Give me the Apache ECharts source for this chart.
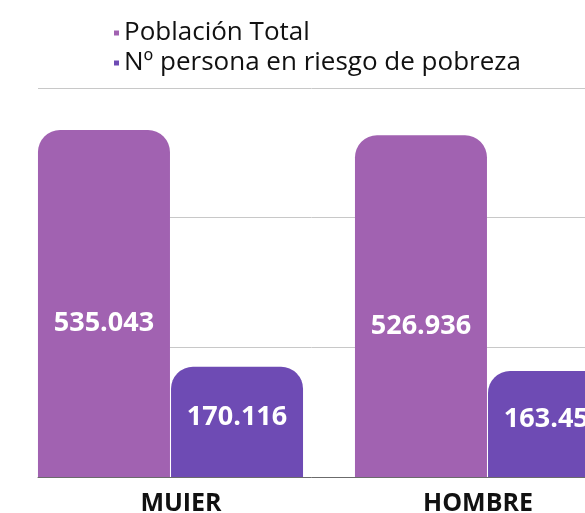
<!DOCTYPE html>
<html>
<head>
<meta charset="utf-8">
<script src="https://cdn.jsdelivr.net/npm/echarts@6/dist/echarts.min.js"></script>
<style>
  html, body { margin: 0; padding: 0; background: #fff; }
  #main { width: 585px; height: 513px; }
</style>
</head>
<body>
<div id="main"></div>
<script>
var categories = ['MUIER', 'HOMBRE']
var poblacionTotal = [535043, 526936]
var personasRiesgo = [170116, 163455]
var seriesNames = ['Población Total', 'Nº persona en riesgo de pobreza']
var yTicks = { min: 0, max: 600000, interval: 200000 }

var colorPob = '#a162b1'
var colorRiesgo = '#6e4bb4'

function fmt(v) {
    // separador de miles con punto
    return String(v).replace(/\B(?=(\d{3})+(?!\d))/g, '.')
}

var myChart = echarts.init(document.getElementById('main'))

var labelStyle = {
    show: true,
    position: 'inside',
    color: '#fff',
    fontFamily: 'Open Sans',
    fontWeight: 'bold',
    fontSize: 27,
    formatter: function (p) { return fmt(p.value) }
}

myChart.setOption({
    animation: false,
    legend: {
        orient: 'vertical',
        left: 109,
        top: 15,
        icon: 'rect',
        itemWidth: 5,
        itemHeight: 5,
        itemGap: 4,
        textStyle: { fontFamily: 'Open Sans', fontSize: 26, color: '#111', lineHeight: 26 },
        data: seriesNames
    },
    grid: [
        // lineas de fondo y eje
        { left: 38, right: 0, top: 88, bottom: 36, outerBoundsMode: 'none' },
        // barras (se salen por la derecha)
        { left: 12, right: -61, top: 88, bottom: 36, outerBoundsMode: 'none' },
        // etiquetas de categoria
        { left: 32.5, right: -41.5, top: 88, bottom: 36, outerBoundsMode: 'none' }
    ],
    xAxis: [
        {
            gridIndex: 0, type: 'category', data: categories,
            axisLine: { lineStyle: { color: '#6b6b6b', width: 1 } },
            axisTick: { show: false }, axisLabel: { show: false }
        },
        {
            gridIndex: 1, type: 'category', data: categories,
            axisLine: { show: false }, axisTick: { show: false }, axisLabel: { show: false }
        },
        {
            gridIndex: 2, type: 'category', data: categories,
            axisLine: { show: false }, axisTick: { show: false },
            axisLabel: { margin: 14, fontFamily: 'Open Sans', fontWeight: 'bold', fontSize: 25, color: '#111' }
        }
    ],
    yAxis: [
        {
            gridIndex: 0, type: 'value', min: yTicks.min, max: yTicks.max, interval: yTicks.interval,
            axisLabel: { show: false }, axisLine: { show: false }, axisTick: { show: false },
            splitLine: { lineStyle: { color: '#c8c8c8', width: 1 } }
        },
        {
            gridIndex: 1, type: 'value', min: yTicks.min, max: yTicks.max, interval: yTicks.interval,
            show: false
        },
        {
            gridIndex: 2, type: 'value', min: yTicks.min, max: yTicks.max, interval: yTicks.interval,
            show: false
        }
    ],
    series: [
        {
            name: seriesNames[0],
            type: 'bar',
            xAxisIndex: 1, yAxisIndex: 1,
            data: poblacionTotal,
            barWidth: 132,
            barGap: '0.8%',
            itemStyle: { color: colorPob, borderRadius: [22, 22, 0, 0] },
            label: Object.assign({}, labelStyle, { offset: [0, 20] })
        },
        {
            name: seriesNames[1],
            type: 'bar',
            xAxisIndex: 1, yAxisIndex: 1,
            data: personasRiesgo,
            barWidth: 132,
            barGap: '0.8%',
            itemStyle: { color: colorRiesgo, borderRadius: [22, 22, 0, 0] },
            label: Object.assign({}, labelStyle, { offset: [0, -4.5] })
        }
    ]
})
</script>
</body>
</html>
